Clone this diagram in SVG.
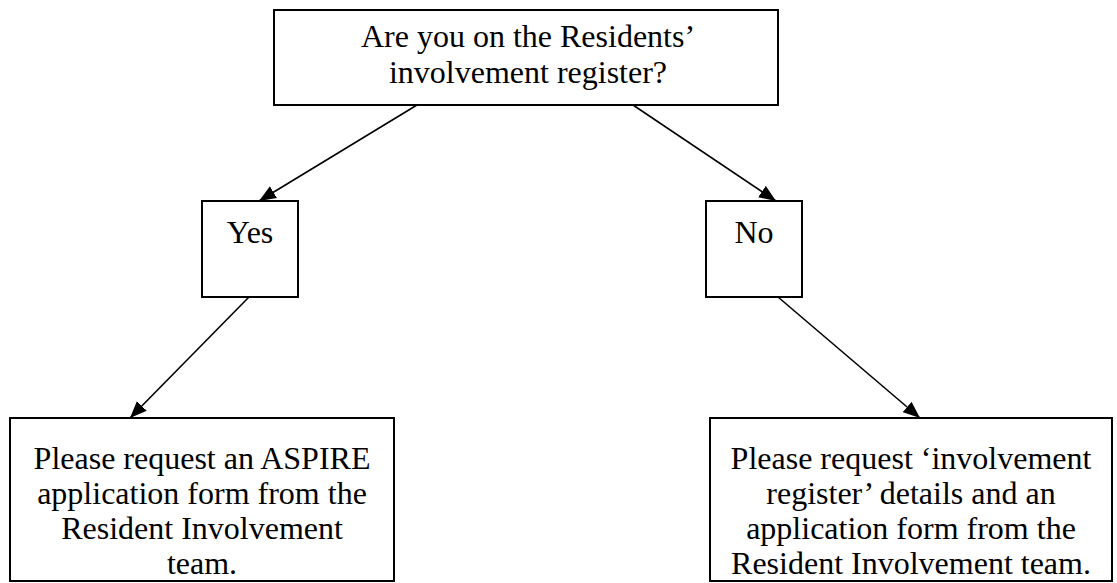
<svg xmlns="http://www.w3.org/2000/svg" width="1117" height="583" viewBox="0 0 1117 583">
<style>
.box{fill:#fff;stroke:#000;stroke-width:2}
.t{font-family:"Liberation Serif","Times New Roman",serif;font-size:32px;fill:#000;text-anchor:middle}
.c{stroke:#000;stroke-width:1.6;fill:none;marker-end:url(#ah)}
</style>
<defs>
<marker id="ah" markerUnits="userSpaceOnUse" markerWidth="18" markerHeight="14" refX="16" refY="6.5" orient="auto" viewBox="0 0 17 13">
<path d="M0,0 L16,6.5 L0,13 z" fill="#000"/>
</marker>
</defs>
<rect width="1117" height="583" fill="#fff"/>
<g id="connectors">
<line class="c" x1="417" y1="105" x2="259" y2="201"/>
<line class="c" x1="633" y1="105" x2="776" y2="201"/>
<line class="c" x1="249" y1="297" x2="130" y2="418"/>
<line class="c" x1="778" y1="297" x2="920" y2="418"/>
</g>
<g id="question">
<rect class="box" x="274" y="10" width="504" height="95"/>
<text class="t" x="528" y="47">Are you on the Residents’</text>
<text class="t" x="528" y="83">involvement register?</text>
</g>
<g id="yes">
<rect class="box" x="202" y="201" width="96" height="96"/>
<text class="t" x="250" y="243">Yes</text>
</g>
<g id="no">
<rect class="box" x="706" y="201" width="96" height="96"/>
<text class="t" x="754" y="243">No</text>
</g>
<g id="yes-action">
<rect class="box" x="10" y="418" width="384" height="163"/>
<text class="t" x="202" y="469">Please request an ASPIRE</text>
<text class="t" x="202" y="504">application form from the</text>
<text class="t" x="202" y="539">Resident Involvement</text>
<text class="t" x="202" y="574">team.</text>
</g>
<g id="no-action">
<rect class="box" x="710" y="418" width="402" height="163"/>
<text class="t" x="911" y="469">Please request ‘involvement</text>
<text class="t" x="911" y="504">register’ details and an</text>
<text class="t" x="911" y="539">application form from the</text>
<text class="t" x="911" y="574">Resident Involvement team.</text>
</g>
</svg>
